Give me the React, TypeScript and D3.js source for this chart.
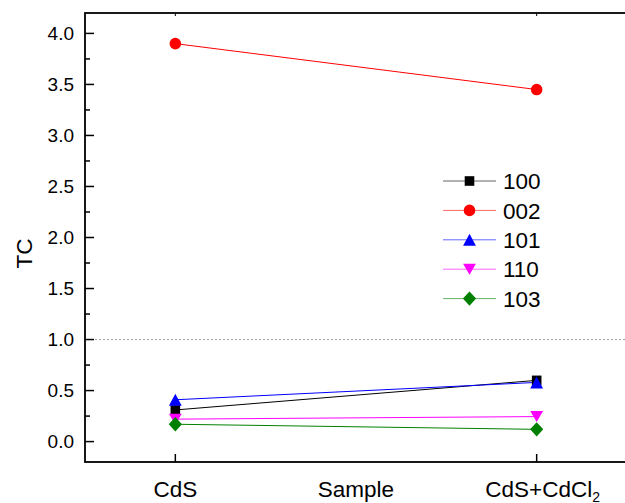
import React, { useRef, useEffect } from 'react';
import * as d3 from 'd3';

// chart data
const samples = ['CdS', 'CdS+CdCl2'];
const seriesNames = ['100', '002', '101', '110', '103'];
const seriesColors = ['#000000', '#ff0000', '#0000ff', '#ff00ff', '#008000'];
const seriesShapes = ['square', 'circle', 'triangle', 'triangleDown', 'diamond'];
const values100 = [0.31, 0.60];
const values002 = [3.9, 3.45];
const values101 = [0.41, 0.58];
const values110 = [0.22, 0.245];
const values103 = [0.17, 0.12];
const yTicks = [0, 0.5, 1, 1.5, 2, 2.5, 3, 3.5, 4];
const refLine = 1.0;

const allValues = [values100, values002, values101, values110, values103];

// marker outline centred on 0,0
function markerPath(shape: string): string {
  const p = d3.path();
  if (shape === 'square') {
    p.rect(-4.8, -4.8, 9.6, 9.6);
  } else if (shape === 'circle') {
    p.arc(0, 0, 5.8, 0, Math.PI * 2);
  } else if (shape === 'triangle') {
    p.moveTo(0, -6);
    p.lineTo(6.4, 6);
    p.lineTo(-6.4, 6);
    p.closePath();
  } else if (shape === 'triangleDown') {
    p.moveTo(-6.4, -5.5);
    p.lineTo(6.4, -5.5);
    p.lineTo(0, 5.5);
    p.closePath();
  } else {
    p.moveTo(0, -7.2);
    p.lineTo(6.6, 0);
    p.lineTo(0, 7.2);
    p.lineTo(-6.6, 0);
    p.closePath();
  }
  return p.toString();
}

export default function App() {
  const svgRef = useRef<SVGSVGElement>(null);

  useEffect(() => {
    const svg = d3.select(svgRef.current);
    svg.selectAll('*').remove();

    const width = 625;
    const height = 503;
    const margin = { top: 13, right: -2, bottom: 41, left: 85 };
    const font = 'Arial, "Liberation Sans", sans-serif';
    const bigFont = 22.5;

    const x = d3.scaleLinear()
      .domain([0.75, 2.25])
      .range([margin.left, width - margin.right]);
    const y = d3.scaleLinear()
      .domain([-0.2, 4.2])
      .range([height - margin.bottom, margin.top]);

    const x0 = margin.left, x1 = width - margin.right;
    const y0 = height - margin.bottom, y1 = margin.top;

    // reference line at 1.0
    svg.append('line')
      .attr('x1', x0 + 10).attr('x2', x1)
      .attr('y1', y(refLine)).attr('y2', y(refLine))
      .attr('stroke', '#a0a0a0')
      .attr('stroke-width', 1)
      .attr('stroke-dasharray', '2,2');

    // y ticks (major + minor, inward)
    const axisG = svg.append('g');
    yTicks.forEach(t => {
      axisG.append('line')
        .attr('x1', x0).attr('x2', x0 + 9)
        .attr('y1', y(t)).attr('y2', y(t))
        .attr('stroke', '#000').attr('stroke-width', 1.5);
      axisG.append('text')
        .attr('x', x0 - 11).attr('y', y(t))
        .attr('dy', '0.36em')
        .attr('text-anchor', 'end')
        .attr('font-family', font)
        .attr('font-size', 19)
        .text(t.toFixed(1));
    });
    d3.range(0.25, 4.2, 0.5).forEach(t => {
      axisG.append('line')
        .attr('x1', x0).attr('x2', x0 + 5)
        .attr('y1', y(t)).attr('y2', y(t))
        .attr('stroke', '#000').attr('stroke-width', 1.5);
    });

    // x ticks on bottom and top
    samples.forEach((s, i) => {
      axisG.append('line')
        .attr('x1', x(i + 1)).attr('x2', x(i + 1))
        .attr('y1', y0).attr('y2', y0 - 8)
        .attr('stroke', '#000').attr('stroke-width', 1.5);
      axisG.append('line')
        .attr('x1', x(i + 1)).attr('x2', x(i + 1))
        .attr('y1', y1).attr('y2', y1 + 3)
        .attr('stroke', '#000').attr('stroke-width', 1);
    });

    // x labels
    axisG.append('text')
      .attr('x', x(1)).attr('y', 497)
      .attr('text-anchor', 'middle')
      .attr('font-family', font).attr('font-size', bigFont)
      .text(samples[0]);
    const lbl2 = axisG.append('text')
      .attr('x', x(2) + 6).attr('y', 497)
      .attr('text-anchor', 'middle')
      .attr('font-family', font).attr('font-size', bigFont);
    lbl2.append('tspan').text(samples[1].slice(0, -1));
    lbl2.append('tspan')
      .attr('font-size', 14)
      .attr('dy', 5)
      .text(samples[1].slice(-1));

    axisG.append('text')
      .attr('x', (x(1) + x(2)) / 2).attr('y', 497)
      .attr('text-anchor', 'middle')
      .attr('font-family', font).attr('font-size', bigFont)
      .text('Sample');

    axisG.append('text')
      .attr('transform', `translate(32,253.5) rotate(-90)`)
      .attr('text-anchor', 'middle')
      .attr('font-family', font).attr('font-size', bigFont)
      .text('TC');

    // frame
    svg.append('rect')
      .attr('x', x0).attr('y', y1)
      .attr('width', x1 - x0).attr('height', y0 - y1)
      .attr('fill', 'none')
      .attr('stroke', '#000').attr('stroke-width', 1.8);

    // series
    const line = d3.line<number>()
      .x((d, i) => x(i + 1))
      .y(d => y(d));

    allValues.forEach((vals, k) => {
      svg.append('path')
        .attr('d', line(vals))
        .attr('fill', 'none')
        .attr('stroke', seriesColors[k])
        .attr('stroke-width', 1);
    });
    allValues.forEach((vals, k) => {
      svg.append('g').selectAll('path')
        .data(vals)
        .enter().append('path')
        .attr('d', markerPath(seriesShapes[k]))
        .attr('transform', (d, i) => `translate(${x(i + 1)},${y(d)})`)
        .attr('fill', seriesColors[k]);
    });

    // legend
    const legend = svg.append('g').attr('transform', 'translate(443,181)');
    seriesNames.forEach((name, k) => {
      const row = legend.append('g').attr('transform', `translate(0,${k * 29.4})`);
      row.append('line')
        .attr('x1', 0).attr('x2', 53)
        .attr('y1', 0).attr('y2', 0)
        .attr('stroke', seriesColors[k])
        .attr('stroke-width', 1)
        .attr('stroke-opacity', 0.6);
      row.append('path')
        .attr('d', markerPath(seriesShapes[k]))
        .attr('transform', 'translate(26.5,0)')
        .attr('fill', seriesColors[k]);
      row.append('text')
        .attr('x', 60).attr('y', 0)
        .attr('dy', '0.36em')
        .attr('font-family', font).attr('font-size', bigFont)
        .text(name);
    });
  }, []);

  return (
    <svg
      ref={svgRef}
      width={625}
      height={503}
      style={{ position: 'absolute', left: 0, top: 0, background: '#fff' }}
    />
  );
}
